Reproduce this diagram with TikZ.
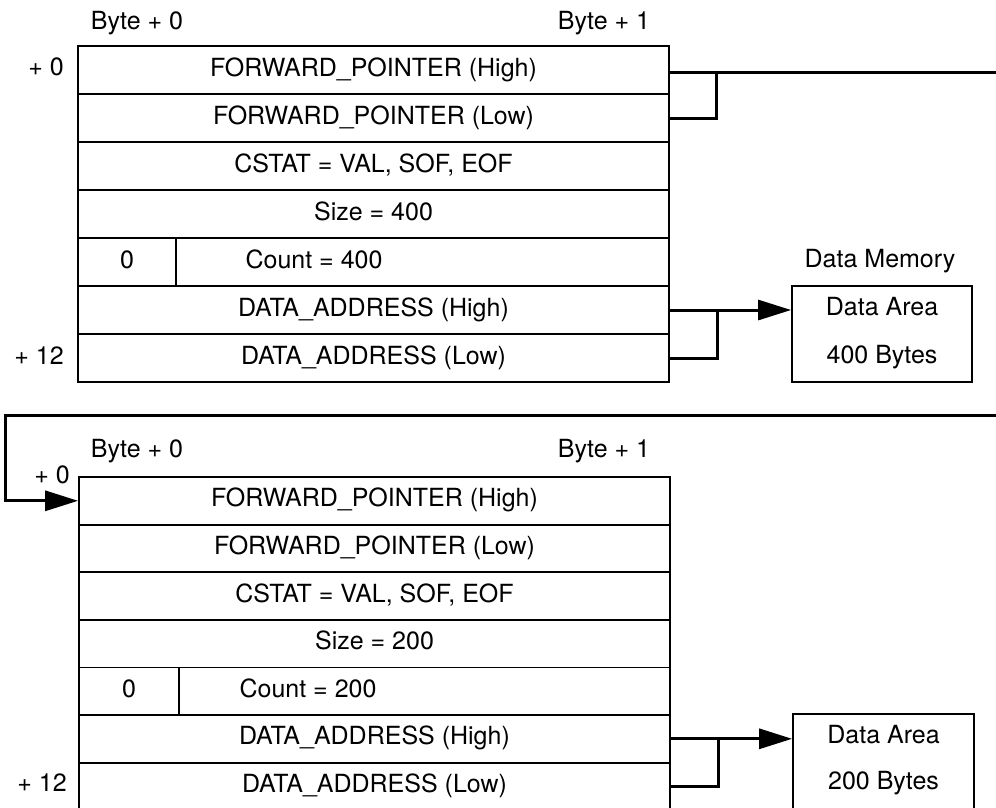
\documentclass[tikz,border=0pt]{standalone}
\usepackage{fontspec}
\setmainfont{TeX Gyre Heros}
\usetikzlibrary{arrows.meta,calc}
\begin{document}
\begin{tikzpicture}[x=1pt,y=-1pt,
  txt/.style={inner sep=0pt, font=\fontsize{25}{30}\selectfont, text height=18pt, text depth=6pt},
  rowbox/.style={txt, draw, line width=1.8pt, minimum width=591pt, minimum height=48pt},
  rowboxb/.style={rowbox, minimum height=47.6pt},
  zerocell/.style={txt, draw, line width=1.8pt, minimum width=98pt, minimum height=48pt},
  databox/.style={draw, line width=1.8pt, minimum width=180pt, minimum height=96pt, inner sep=0pt},
  conn/.style={line width=3pt},
  ptr/.style={conn, -{Triangle[length=33pt,width=20pt]}},
]
\useasboundingbox (0,0) rectangle (996,807);

% ---------- first buffer descriptor ----------
\node[txt] (hb0a) at (137,23) {Byte + 0};
\node[txt] (hb1a) at (604,23) {Byte + 1};
\node[txt] (off0a) at (46,69) {+ 0};
\node[txt] (off12a) at (39,358) {+ 12};

\node[rowbox] (a1) at (373.5,70) {FORWARD\_POINTER (High)};
\node[rowbox] (a2) at (373.5,118) {FORWARD\_POINTER (Low)};
\node[rowbox] (a3) at (373.5,166) {CSTAT = VAL, SOF, EOF};
\node[rowbox] (a4) at (373.5,214) {Size = 400};
\node[rowbox] (a5) at (373.5,262) {};
\node[zerocell] (z1) at (127,262) {0};
\node[txt] (c1) at (314,262) {Count = 400};
\node[rowbox] (a6) at (373.5,310) {DATA\_ADDRESS (High)};
\node[rowbox] (a7) at (373.5,358) {DATA\_ADDRESS (Low)};

\node[txt] (dm) at (880,261) {Data Memory};
\node[databox] (d1) at (882,334) {};
\node[txt] (d1a) at (882,309) {Data Area};
\node[txt] (d1b) at (882,357) {400 Bytes};

% forward pointer of first descriptor
\coordinate (fpR) at (996,72);
\draw[conn] (a1.east |- fpR) -- (fpR);
\draw[conn] (a2.east) -- ++(47,0) |- (fpR);

% data address of first descriptor
\draw[ptr] (a6.east) -- (a6.east -| d1.west);
\draw[conn] (a7.east) -| ($(a6.east)+(48,0)$);

% wrap-around link to second descriptor
\coordinate (wrR) at (996,415);
\coordinate (wrL) at (5,415);

% ---------- second buffer descriptor ----------
\node[txt] (hb0b) at (137,451) {Byte + 0};
\node[txt] (hb1b) at (604,451) {Byte + 1};
\node[txt] (off0b) at (52,477) {+ 0};
\node[txt] (off12b) at (42,785) {+ 12};

\node[rowboxb] (b1) at (374.5,500.8) {FORWARD\_POINTER (High)};
\node[rowboxb] (b2) at (374.5,548.4) {FORWARD\_POINTER (Low)};
\node[rowboxb] (b3) at (374.5,596) {CSTAT = VAL, SOF, EOF};
\node[rowboxb] (b4) at (374.5,643.6) {Size = 200};
\node[rowboxb] (b5) at (374.5,691.2) {};
\node[zerocell, minimum width=100pt, minimum height=47.6pt] (z2) at (129,691.2) {0};
\node[txt] (c2) at (308,691.2) {Count = 200};
\node[rowboxb] (b6) at (374.5,738.8) {DATA\_ADDRESS (High)};
\node[rowboxb] (b7) at (374.5,786.4) {DATA\_ADDRESS (Low)};

\node[databox, minimum width=181pt] (d2) at (883.5,762) {};
\node[txt] (d2a) at (883.5,737) {Data Area};
\node[txt] (d2b) at (883.5,783) {200 Bytes};

\draw[ptr] (wrR) -- (wrL) |- (b1.west);

\draw[ptr] (b6.east) -- (b6.east -| d2.west);
\draw[conn] (b7.east) -| ($(b6.east)+(48,0)$);
\end{tikzpicture}
\end{document}
